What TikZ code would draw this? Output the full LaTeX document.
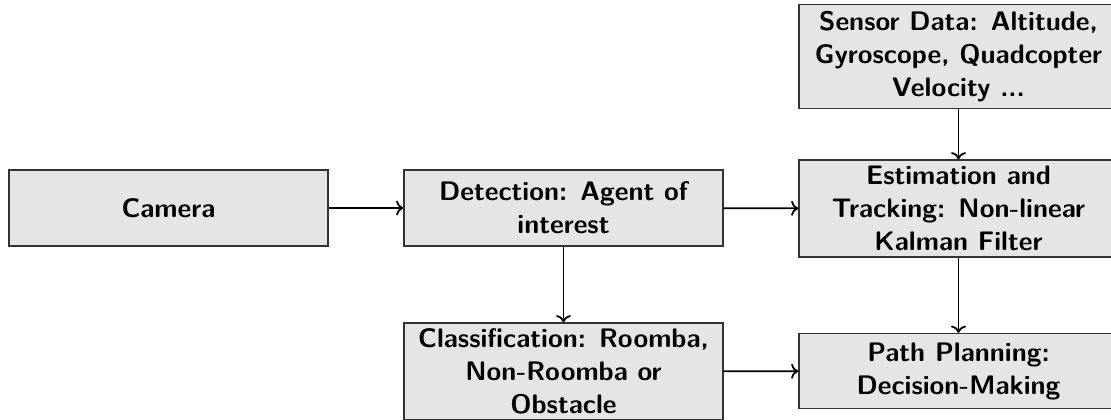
\documentclass[tikz,border=0pt]{standalone}
\usetikzlibrary{arrows.meta}
\begin{document}
\begin{tikzpicture}[x=0.5pt,y=-0.5pt,
  blockbox/.style={draw=black!80, line width=0.7pt, fill=black!10, minimum width=159.5pt, inner sep=0pt,
    align=center, font=\fontsize{13.4}{16.5}\selectfont\sffamily\bfseries},
  conn/.style={line width=0.9pt, ->}]
\useasboundingbox (0,0) rectangle (1111,419);
\clip (0,0) rectangle (1111,419);
\node[blockbox, minimum height=38pt] (cam) at (168.5,208) {Camera};
\node[blockbox, minimum height=38pt] (det) at (563.5,208) {Detection: Agent of\\interest};
\node[blockbox, minimum height=52pt] (sen) at (958.5,56.5) {Sensor Data: Altitude,\\Gyroscope, Quadcopter\\Velocity ...};
\node[blockbox, minimum height=48.5pt] (est) at (958.5,208.5) {Estimation and\\Tracking: Non-linear\\Kalman Filter};
\node[blockbox, minimum height=48.5pt] (cls) at (563.5,371.5) {Classification: Roomba,\\Non-Roomba or\\Obstacle};
\node[blockbox, minimum height=37.5pt] (pth) at (958.5,371) {Path Planning:\\Decision-Making};
\draw[conn] (cam) -- (det);
\draw[conn] (det) -- (est);
\draw[conn] (sen) -- (est);
\draw[conn] (det) -- (cls);
\draw[conn] (est) -- (pth);
\draw[conn] (cls) -- (pth);
\end{tikzpicture}
\end{document}
